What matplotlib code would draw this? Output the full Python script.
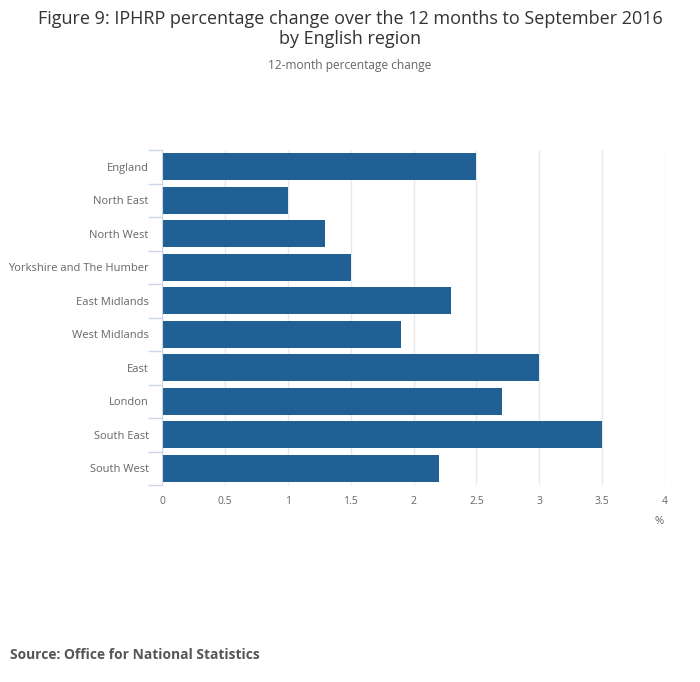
import numpy as np
import matplotlib.pyplot as plt

regions = ["England", "North East", "North West", "Yorkshire and The Humber",
           "East Midlands", "West Midlands", "East", "London", "South East",
           "South West"]
change = [2.5, 1.0, 1.3, 1.5, 2.3, 1.9, 3.0, 2.7, 3.5, 2.2]
xticks = [0, 0.5, 1, 1.5, 2, 2.5, 3, 3.5, 4]
xticklabels = ["0", "0.5", "1", "1.5", "2", "2.5", "3", "3.5", "4"]

plt.rcParams['font.family'] = ['Open Sans', 'DejaVu Sans']

fig = plt.figure(figsize=(7, 6.82), dpi=100)
ax = fig.add_axes([162/700, 1-485/682, (665-162)/700, (485-150)/682])

y = np.arange(len(regions))
ax.barh(y, change, height=0.8, color="#206095", zorder=3)
ax.set_ylim(len(regions)-0.5, -0.5)
ax.set_xlim(0, 4)

ax.set_xticks(xticks)
ax.set_xticklabels(xticklabels, fontsize=7.5, color="#666666")
ax.xaxis.grid(True, color="#e9e9e9", linewidth=1, zorder=0)
ax.tick_params(axis='x', length=0, pad=8)

# category labels in the middle, boundary ticks on the edges
ax.set_yticks(y)
ax.set_yticklabels(regions, fontsize=8, color="#666666")
ax.tick_params(axis='y', which='major', length=0, pad=9.5)
ax.set_yticks(np.arange(-0.5, len(regions)), minor=True)
ax.tick_params(axis='y', which='minor', length=10, color="#ccd6eb", width=1)

for s in ["top", "right", "bottom"]:
    ax.spines[s].set_visible(False)
ax.spines["left"].set_color("#ccd6eb")
ax.spines["left"].set_zorder(4)

fig.text(0.5, 1-29/682, "Figure 9: IPHRP percentage change over the 12 months to September 2016\nby English region",
         ha="center", va="center", fontsize=13, color="#333333", linespacing=1.1)
fig.text(0.5, 1-65/682, "12-month percentage change", ha="center", va="center",
         fontsize=8.6, color="#666666")
fig.text(664/700, 1-521/682, "%", ha="right", va="center", fontsize=8, color="#666666")
fig.text(10/700, 1-655/682, "Source: Office for National Statistics", ha="left", va="center",
         fontsize=9.9, color="#555555", fontweight="bold")

fig.savefig("out.png", dpi=100)
